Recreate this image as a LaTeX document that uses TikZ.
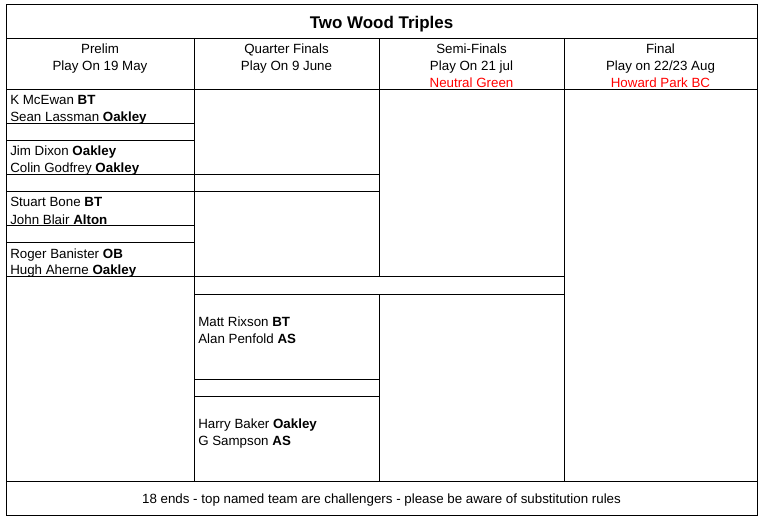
\documentclass[tikz,border=0pt]{standalone}
\usepackage{fontspec}
\setmainfont{Liberation Sans}
\begin{document}
\begin{tikzpicture}[x=0.75pt,y=-0.75pt,
  grid/.style={draw,line width=0.75pt},
  head/.style={font=\fontsize{10}{12}\selectfont,anchor=base,inner sep=0pt},
  team/.style={font=\fontsize{10}{12}\selectfont,anchor=base west,inner sep=0pt},
  venue/.style={head,text=red}]
\useasboundingbox (0,0) rectangle (768,524);

% frame and main rules
\path[grid] (6,5) rectangle (757,515);
\path[grid] (6,39) -- (757,39);
\path[grid] (6,90) -- (757,90);
\path[grid] (6,481) -- (757,481);

% columns
\path[grid] (194,39) -- (194,481);
\path[grid] (379,39) -- (379,277);
\path[grid] (379,294) -- (379,481);
\path[grid] (564,39) -- (564,481);

% prelim rows
\foreach \y in {124,141,175,192,226,243}
  \path[grid] (6,\y) -- (194,\y);
\path[grid] (6,277) -- (564,277);

% quarter final rows
\path[grid] (194,175) -- (379,175);
\path[grid] (194,192) -- (379,192);
\path[grid] (194,294) -- (564,294);
\path[grid] (194,379) -- (379,379);
\path[grid] (194,396) -- (379,396);

% title
\node[head,font=\fontsize{12.7}{15}\selectfont\bfseries] (title) at (381.5,29) {Two Wood Triples};

% headers
\node[head] (prelim) at (100,54) {Prelim};
\node[head] (prelimdate) at (100,71) {Play On 19 May};
\node[head] (quarter) at (286.5,54) {Quarter Finals};
\node[head] (quarterdate) at (286.5,71) {Play On 9 June};
\node[head] (semi) at (471.5,54) {Semi-Finals};
\node[head] (semidate) at (471.5,71) {Play On 21 jul};
\node[venue] (semivenue) at (471.5,88) {Neutral Green};
\node[head] (final) at (660.5,54) {Final};
\node[head] (finaldate) at (660.5,71) {Play on 22/23 Aug};
\node[venue] (finalvenue) at (660.5,88) {Howard Park BC};

% prelim teams
\node[team] (mcewan) at (10,105) {K McEwan \textbf{BT}};
\node[team] (lassman) at (10,122) {Sean Lassman \textbf{Oakley}};
\node[team] (dixon) at (10,156) {Jim Dixon \textbf{Oakley}};
\node[team] (godfrey) at (10,173) {Colin Godfrey \textbf{Oakley}};
\node[team] (bone) at (10,207) {Stuart Bone \textbf{BT}};
\node[team] (blair) at (10,224) {John Blair \textbf{Alton}};
\node[team] (banister) at (10,258) {Roger Banister \textbf{OB}};
\node[team] (aherne) at (10,275) {Hugh Aherne \textbf{Oakley}};

% quarter final teams
\node[team] (rixson) at (198,326) {Matt Rixson \textbf{BT}};
\node[team] (penfold) at (198,343) {Alan Penfold \textbf{AS}};
\node[team] (baker) at (198,428) {Harry Baker \textbf{Oakley}};
\node[team] (sampson) at (198,445) {G Sampson \textbf{AS}};

% footer
\node[head] (footer) at (381.5,503) {18 ends - top named team are challengers - please be aware of substitution rules};
\end{tikzpicture}
\end{document}
